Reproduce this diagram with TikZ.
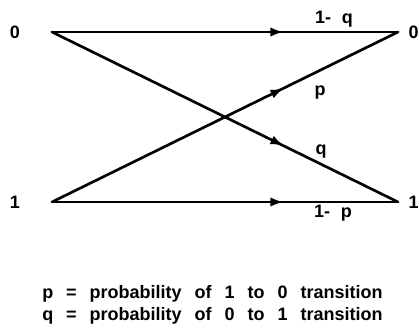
\documentclass[tikz,border=0pt]{standalone}
\usepackage{fontspec}
\setmainfont{Liberation Sans}
\usepackage{tikz}
\usetikzlibrary{arrows.meta, positioning, decorations.markings}

\newcommand{\gap}{\hspace{0.72em}}

\tikzset{
  chanline/.style={line width=2pt, line cap=round,
    postaction={decorate, decoration={markings,
      mark=at position 0.67 with {\arrow{Latex[length=10pt,width=7pt]}}}}},
  statelabel/.style={font=\fontsize{13.5}{16}\selectfont\bfseries, inner sep=0pt},
  problabel/.style={font=\fontsize{13.5}{16}\selectfont\bfseries, inner sep=0pt, anchor=base}
}

\begin{document}
\begin{tikzpicture}[x=0.75pt, y=-0.75pt]
    \useasboundingbox (0,0) rectangle (419,330);

    % end points of the channel
    \coordinate (in0) at (52,32);
    \coordinate (in1) at (52,202);
    \coordinate (out0) at (398,32);
    \coordinate (out1) at (398,202);

    \node[statelabel] (lab-in0) at (15,32) {0};
    \node[statelabel] (lab-in1) at (15,202) {1};
    \node[statelabel, anchor=east] (lab-out0) at (419,32) {0};
    \node[statelabel, anchor=east] (lab-out1) at (419,202) {1};

    \draw[chanline] (in0) -- (out0);
    \draw[chanline] (in0) -- (out1);
    \draw[chanline] (in1) -- (out0);
    \draw[chanline] (in1) -- (out1);

    \node[problabel] (p-00) at (334,23) {1-\hspace{0.6em}q};
    \node[problabel] (p-10) at (320,95) {p};
    \node[problabel] (p-01) at (321,154) {q};
    \node[problabel] (p-11) at (333,217) {1-\hspace{0.6em}p};

    % legend
    \node[problabel, anchor=base west] (legend-p) at (42,298)
      {p\gap=\gap probability\gap of\gap 1\gap to\gap 0\gap transition};
    \node[problabel, anchor=base west] (legend-q) at (42,320)
      {q\gap=\gap probability\gap of\gap 0\gap to\gap 1\gap transition};
  \end{tikzpicture}
\end{document}
